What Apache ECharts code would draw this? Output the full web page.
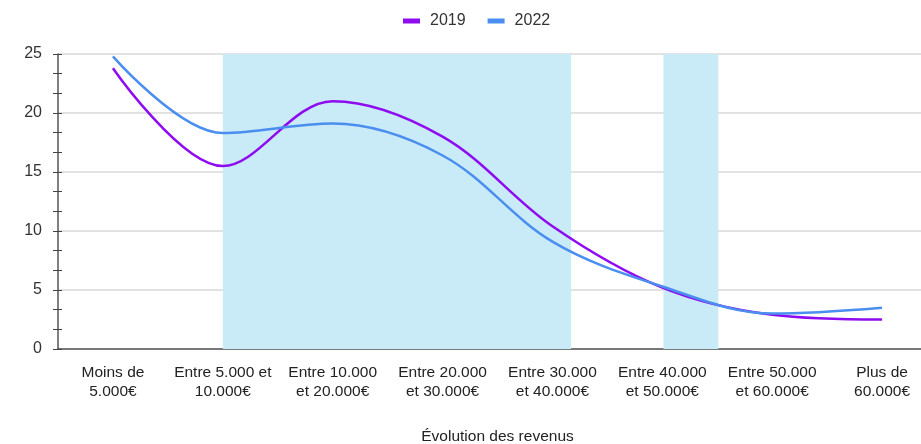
<!DOCTYPE html>
<html>
<head>
<meta charset="utf-8">
<script src="https://cdn.jsdelivr.net/npm/echarts@6/dist/echarts.min.js"></script>
<style>
  html, body { margin: 0; padding: 0; background: #fff; }
  #chart { width: 921px; height: 444px; }
</style>
</head>
<body>
<div id="chart"></div>
<script>
  // tranches de revenus
  const categories = [
    'Moins de\n5.000€',
    'Entre 5.000 et\n10.000€',
    'Entre 10.000\net 20.000€',
    'Entre 20.000\net 30.000€',
    'Entre 30.000\net 40.000€',
    'Entre 40.000\net 50.000€',
    'Entre 50.000\net 60.000€',
    'Plus de\n60.000€'
  ]
  const values2019 = [23.8, 15.5, 21.0, 18.0, 10.4, 5.2, 2.9, 2.5]
  const values2022 = [24.8, 18.3, 19.1, 16.4, 9.1, 5.3, 3.0, 3.5]
  // zones surlignées (positions en index de catégorie)
  const bands = [[1, 4.17], [5.01, 5.51]]

  const myChart = echarts.init(document.getElementById('chart'))
  const font = 'Liberation Sans, Arial, sans-serif'
  const tickStyle = { color: '#444' }

  myChart.setOption({
    animation: false,
    textStyle: { fontFamily: font },
    legend: {
      top: 8,
      left: 398,
      itemWidth: 17,
      itemHeight: 5,
      itemGap: 22,
      icon: 'rect',
      textStyle: { fontSize: 16, color: '#333', fontFamily: font, padding: [0, 0, 0, 5] },
      data: ['2019', '2022']
    },
    grid: { left: 58, width: 879, top: 54, height: 295, outerBoundsMode: 'none', containLabel: false },
    xAxis: [{
      type: 'category',
      data: categories,
      boundaryGap: true,
      name: 'Évolution des revenus',
      nameLocation: 'middle',
      nameGap: 80,
      nameTextStyle: { fontSize: 15.5, color: '#222', fontFamily: font },
      axisLine: { lineStyle: { color: '#555', width: 1.5 } },
      axisTick: { alignWithLabel: true, length: 7, lineStyle: tickStyle },
      axisLabel: { margin: 14, fontSize: 15.5, color: '#222', lineHeight: 19, interval: 0, fontFamily: font }
    }, {
      // axe caché pour placer les zones surlignées
      type: 'value',
      min: -0.5,
      max: 7.5,
      show: false
    }, {
      // partie intérieure des graduations (elles traversent l'axe)
      type: 'category',
      data: categories,
      position: 'bottom',
      boundaryGap: true,
      axisLine: { show: false },
      axisTick: { inside: true, alignWithLabel: true, length: 7, lineStyle: tickStyle },
      axisLabel: { show: false },
      splitLine: { show: false }
    }],
    yAxis: [{
      type: 'value',
      min: 0,
      max: 25,
      interval: 5,
      axisLine: { show: true, onZero: false, lineStyle: { color: '#555', width: 1.5 } },
      axisTick: { show: true, length: 5, lineStyle: tickStyle },
      minorTick: { show: true, splitNumber: 3, length: 5, lineStyle: tickStyle },
      axisLabel: { margin: 16, fontSize: 16, color: '#333', fontFamily: font },
      splitLine: { lineStyle: { color: '#d9d9d9', width: 1.5 } }
    }, {
      type: 'value',
      min: 0,
      max: 25,
      interval: 5,
      position: 'left',
      axisLine: { show: false, onZero: false },
      axisTick: { show: true, inside: true, length: 4, lineStyle: tickStyle },
      minorTick: { show: true, splitNumber: 3, length: 4, lineStyle: tickStyle },
      axisLabel: { show: false },
      splitLine: { show: false }
    }],
    series: [{
      type: 'line',
      xAxisIndex: 1,
      data: [],
      silent: true,
      markArea: {
        silent: true,
        itemStyle: { color: '#c9ebf7' },
        data: bands.map(b => [{ xAxis: b[0] }, { xAxis: b[1] }])
      },
      z: 1
    }, {
      name: '2019',
      type: 'line',
      data: values2019,
      smooth: 0.35,
      showSymbol: false,
      color: '#8f0bf0',
      lineStyle: { width: 2.5, color: '#8f0bf0' },
      z: 3
    }, {
      name: '2022',
      type: 'line',
      data: values2022,
      smooth: 0.35,
      showSymbol: false,
      color: '#4a8ef0',
      lineStyle: { width: 2.5, color: '#4a8ef0' },
      z: 3
    }]
  })
</script>
</body>
</html>
